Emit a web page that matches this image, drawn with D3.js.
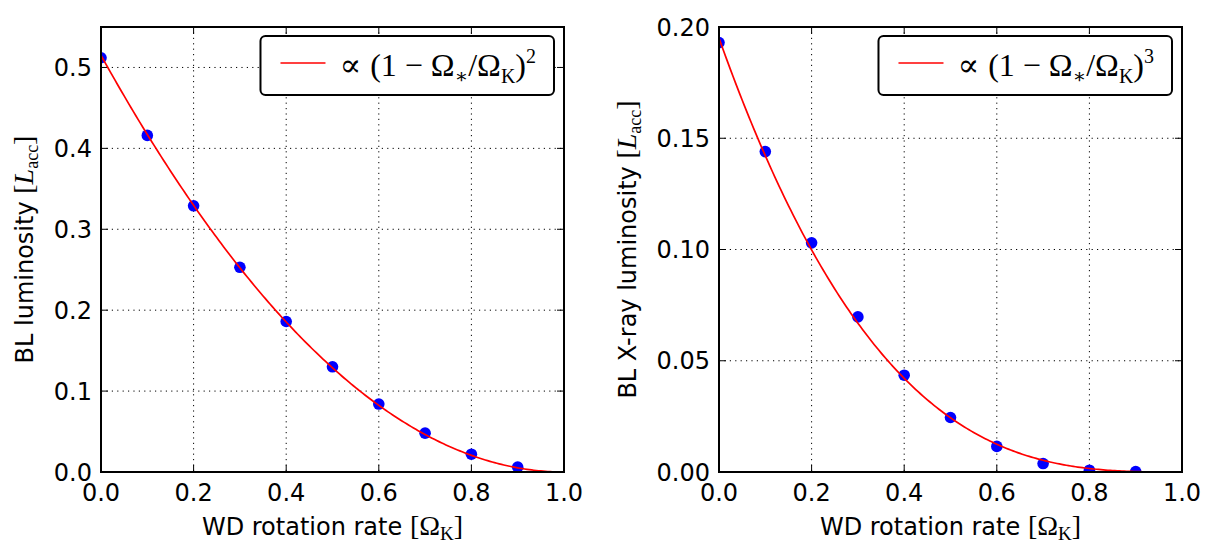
<!DOCTYPE html>
<html>
<head>
<meta charset="utf-8">
<script src="https://cdn.jsdelivr.net/npm/d3@7"></script>
<style>
  html, body { margin: 0; padding: 0; background: #fff; }
  svg { display: block; }
</style>
</head>
<body>
<svg id="chart" width="1218" height="558"></svg>
<script>
// ---- data ----
const omega = [0.0, 0.1, 0.2, 0.3, 0.4, 0.5, 0.6, 0.7, 0.8, 0.9];
const lumTotal = [0.512, 0.416, 0.329, 0.253, 0.186, 0.130, 0.084, 0.048, 0.022, 0.006];
const lumXray = [0.193, 0.144, 0.103, 0.0697, 0.0435, 0.0245, 0.0115, 0.0038, 0.0008, 0.0002];
const fitCoefTotal = 0.515;   // prefactor of (1 - x)^2
const fitPowTotal = 2;
const fitCoefXray = 0.195;    // prefactor of (1 - x)^3
const fitPowXray = 3;
const xTickLabels = ["0.0", "0.2", "0.4", "0.6", "0.8", "1.0"];
const yTickLabelsTotal = ["0.0", "0.1", "0.2", "0.3", "0.4", "0.5"];
const yTickLabelsXray = ["0.00", "0.05", "0.10", "0.15", "0.20"];

const svg = d3.select("#chart");
const SANS = "DejaVu Sans, sans-serif";
const SERIF = "Liberation Serif, DejaVu Serif, serif";
const FS = 24;

function drawPanel(cfg) {
  const { left, right, top, bottom, yMax, yTicks, ys, coef, pow, ylabelText, ylabelX, id } = cfg;
  const x = d3.scaleLinear().domain([0, 1]).range([left, right]);
  const y = d3.scaleLinear().domain([0, yMax]).range([bottom, top]);
  const g = svg.append("g");

  g.append("clipPath").attr("id", "clip" + id)
    .append("rect").attr("x", left).attr("y", top).attr("width", right - left).attr("height", bottom - top);

  const xTickVals = xTickLabels.map(Number);
  const yTickVals = yTicks.map(Number);

  // grid
  const grid = g.append("g").attr("stroke", "#000").attr("stroke-width", 1).attr("stroke-dasharray", "1.2,4.2");
  grid.selectAll(".gx").data(xTickVals.filter(v => v > 0 && v < 1)).enter().append("line")
    .attr("x1", d => x(d)).attr("x2", d => x(d)).attr("y1", top).attr("y2", bottom);
  grid.selectAll(".gy").data(yTickVals.filter(v => v > 0 && v < yMax)).enter().append("line")
    .attr("y1", d => y(d)).attr("y2", d => y(d)).attr("x1", left).attr("x2", right);

  // ticks (inside, all four sides)
  const tl = 7;
  const tk = g.append("g").attr("stroke", "#000").attr("stroke-width", 1);
  xTickVals.forEach(v => {
    tk.append("line").attr("x1", x(v)).attr("x2", x(v)).attr("y1", bottom).attr("y2", bottom - tl);
    tk.append("line").attr("x1", x(v)).attr("x2", x(v)).attr("y1", top).attr("y2", top + tl);
  });
  yTickVals.forEach(v => {
    tk.append("line").attr("y1", y(v)).attr("y2", y(v)).attr("x1", left).attr("x2", left + tl);
    tk.append("line").attr("y1", y(v)).attr("y2", y(v)).attr("x1", right).attr("x2", right - tl);
  });

  // data points
  const plot = g.append("g").attr("clip-path", `url(#clip${id})`);
  plot.selectAll("circle").data(omega.map((o, i) => [o, ys[i]])).enter().append("circle")
    .attr("cx", d => x(d[0])).attr("cy", d => y(d[1])).attr("r", 5.8).attr("fill", "#0000ff");

  // fit curve
  const fx = d3.range(0, 1.0001, 0.005);
  const line = d3.line().x(d => x(d)).y(d => y(coef * Math.pow(1 - d, pow)));
  plot.append("path").datum(fx).attr("d", line).attr("fill", "none").attr("stroke", "#ff0000").attr("stroke-width", 1.7);

  // spines
  g.append("rect").attr("x", left).attr("y", top).attr("width", right - left).attr("height", bottom - top)
    .attr("fill", "none").attr("stroke", "#000").attr("stroke-width", 2);

  // tick labels
  g.selectAll(".xl").data(xTickLabels).enter().append("text")
    .attr("x", d => x(+d)).attr("y", bottom + 29).attr("text-anchor", "middle")
    .attr("font-family", SANS).attr("font-size", FS).text(d => d);
  g.selectAll(".yl").data(yTicks).enter().append("text")
    .attr("x", left - 9).attr("y", d => y(+d) + 8.5).attr("text-anchor", "end")
    .attr("font-family", SANS).attr("font-size", FS).text(d => d);

  // x label
  const xl = g.append("text").attr("x", (left + right) / 2).attr("y", bottom + 63)
    .attr("text-anchor", "middle").attr("font-family", SANS).attr("font-size", FS);
  xl.append("tspan").text("WD rotation rate ");
  xl.append("tspan").attr("font-family", SERIF).attr("font-size", FS + 4).text("[Ω");
  xl.append("tspan").attr("font-family", SERIF).attr("font-size", FS - 5).attr("dy", 5).text("K");
  xl.append("tspan").attr("font-family", SERIF).attr("font-size", FS + 4).attr("dy", -5).text("]");

  // y label
  const yl = g.append("text").attr("transform", `translate(${ylabelX},${(top + bottom) / 2}) rotate(-90)`)
    .attr("text-anchor", "middle").attr("font-family", SANS).attr("font-size", FS);
  yl.append("tspan").text(ylabelText + " ");
  yl.append("tspan").attr("font-family", SERIF).attr("font-size", FS + 4).text("[");
  yl.append("tspan").attr("font-family", SERIF).attr("font-style", "italic").attr("font-size", FS + 4).text("L");
  yl.append("tspan").attr("font-family", SERIF).attr("font-size", FS - 6).attr("dy", 5).text("acc");
  yl.append("tspan").attr("font-family", SERIF).attr("font-size", FS + 4).attr("dy", -5).text("]");

  // legend
  const lg = g.append("g");
  const box = lg.append("rect").attr("fill", "#fff").attr("stroke", "#000").attr("stroke-width", 2)
    .attr("rx", 5).attr("ry", 5);
  const lt = lg.append("text").attr("font-family", SERIF).attr("font-size", 32).attr("y", 0);
  lt.append("tspan").text("∝");
  lt.append("tspan").attr("dx", 9).text("(1");
  lt.append("tspan").attr("dx", 8).text("−");
  lt.append("tspan").attr("dx", 8).text("Ω");
  lt.append("tspan").attr("font-size", 20).attr("dy", 7).text("∗");
  lt.append("tspan").attr("dy", -7).text("/Ω");
  lt.append("tspan").attr("font-size", 20).attr("dy", 7).text("K");
  lt.append("tspan").attr("dy", -7).text(")");
  lt.append("tspan").attr("font-size", 20).attr("dy", -13).text(String(pow));
  const tw = lt.node().getComputedTextLength() + 25;
  const bw = 20 + 45 + 14 + tw + 18, bh = 59;
  const bx = right - 10 - bw, by = top + 9;
  box.attr("x", bx).attr("y", by).attr("width", bw).attr("height", bh);
  lg.append("line").attr("x1", bx + 20).attr("x2", bx + 65).attr("y1", by + 27).attr("y2", by + 27)
    .attr("stroke", "#ff0000").attr("stroke-width", 1.7);
  lt.attr("x", bx + 79).attr("y", by + 40);
}

drawPanel({ id: 1, left: 101, right: 564, top: 27, bottom: 472, yMax: 0.55,
  yTicks: yTickLabelsTotal, ys: lumTotal, coef: fitCoefTotal, pow: fitPowTotal,
  ylabelText: "BL luminosity", ylabelX: 33 });
drawPanel({ id: 2, left: 719, right: 1182, top: 27, bottom: 472, yMax: 0.20,
  yTicks: yTickLabelsXray, ys: lumXray, coef: fitCoefXray, pow: fitPowXray,
  ylabelText: "BL X-ray luminosity", ylabelX: 636 });
</script>
</body>
</html>
